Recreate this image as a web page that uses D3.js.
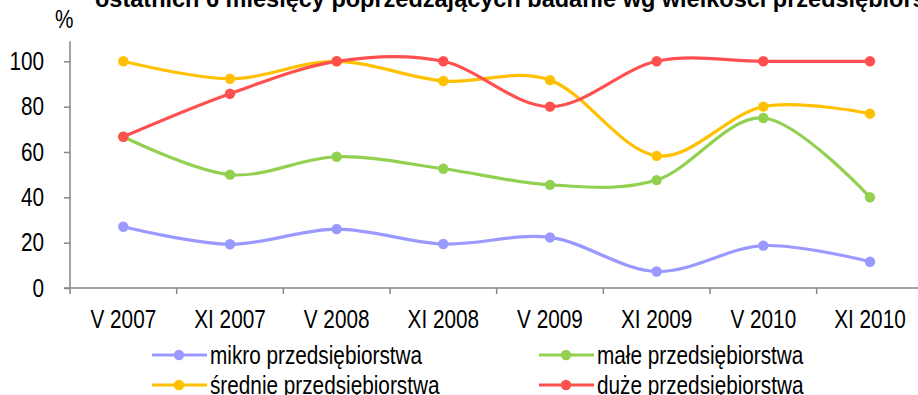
<!DOCTYPE html>
<html>
<head>
<meta charset="utf-8">
<script src="https://cdn.jsdelivr.net/npm/d3@7"></script>
<style>
  html, body { margin: 0; padding: 0; background: #fff; }
  svg { display: block; }
  text { font-family: "Liberation Sans", Arial, sans-serif; }
</style>
</head>
<body>
<svg id="chart" width="918" height="395"></svg>
<script>
// Survey periods on the category axis
const categories = ["V 2007", "XI 2007", "V 2008", "XI 2008", "V 2009", "XI 2009", "V 2010", "XI 2010"];

// Share of firms (%) by enterprise size
const mikro   = [27.0, 19.3, 26.0, 19.4, 22.3, 7.3, 18.7, 11.6];
const male    = [66.7, 50.0, 57.9, 52.6, 45.5, 47.6, 75.0, 40.0];
const srednie = [100, 92.3, 100, 91.3, 91.7, 58.3, 80.0, 76.9];
const duze    = [66.7, 85.7, 100, 100, 80.0, 100, 100, 100];

const seriesNames  = ["mikro przedsiębiorstwa", "małe przedsiębiorstwa", "średnie przedsiębiorstwa", "duże przedsiębiorstwa"];
const seriesColors = ["#9999FF", "#92D050", "#FFC000", "#FF5050"];
const yTicks = [0, 20, 40, 60, 80, 100];

const titleText = "ostatnich 6 miesięcy poprzedzających badanie wg wielkości przedsiębiorstw";

const series = [mikro, male, srednie, duze].map((values, i) => ({
  name: seriesNames[i], color: seriesColors[i], values
}));

const svg = d3.select("#chart");
const plotLeft = 70, plotRight = 923.3, plotTop = 61.3, plotBottom = 288;
const axisColor = "#878787";
const squeeze = 0.83;   // condensed look for axis labels

const x = d3.scaleBand().domain(categories).range([plotLeft, plotRight]).padding(0);
const y = d3.scaleLinear().domain([0, 100]).range([plotBottom, plotTop]);
const cx = c => x(c) + x.bandwidth() / 2;

// Title (runs past the top and right edges)
svg.append("text")
  .attr("x", 95).attr("y", 7)
  .attr("font-weight", "bold")
  .attr("font-size", 23.5)
  .attr("fill", "#000")
  .text(titleText);

// Unit label
svg.append("text")
  .attr("transform", `translate(55,28) scale(${squeeze},1)`)
  .attr("font-size", 25)
  .attr("fill", "#000")
  .text("%");

// Y axis line and ticks
const yAxis = svg.append("g")
  .attr("transform", `translate(${plotLeft},0)`)
  .call(d3.axisLeft(y).tickValues(yTicks).tickSize(6).tickFormat(""));
yAxis.select(".domain").attr("stroke", axisColor).attr("stroke-width", 1.5)
  .attr("d", `M-6,${plotBottom}H0V${plotTop - 20}`);
yAxis.selectAll(".tick line").attr("stroke", axisColor).attr("stroke-width", 1.5);

// Y tick labels
svg.append("g").selectAll("text")
  .data(yTicks)
  .join("text")
  .attr("transform", d => `translate(44,${y(d)}) scale(${squeeze},1)`)
  .attr("text-anchor", "end")
  .attr("dy", "0.35em")
  .attr("font-size", 25)
  .attr("fill", "#000")
  .text(d => d);

// X axis: ticks on category boundaries, labels centred in each band
const xAxisG = svg.append("g").attr("transform", `translate(0,${plotBottom})`);
xAxisG.append("line")
  .attr("x1", plotLeft).attr("x2", plotRight)
  .attr("stroke", axisColor).attr("stroke-width", 1.5);
xAxisG.selectAll("line.tk")
  .data(d3.range(categories.length + 1))
  .join("line")
  .attr("class", "tk")
  .attr("x1", i => plotLeft + i * x.bandwidth())
  .attr("x2", i => plotLeft + i * x.bandwidth())
  .attr("y1", 0).attr("y2", 6)
  .attr("stroke", axisColor).attr("stroke-width", 1.5);
xAxisG.selectAll("text")
  .data(categories)
  .join("text")
  .attr("transform", d => `translate(${cx(d)},40) scale(${squeeze},1)`)
  .attr("text-anchor", "middle")
  .attr("font-size", 25)
  .attr("fill", "#000")
  .text(d => d);

// Smoothed series lines with markers
const line = d3.line()
  .x((d, i) => cx(categories[i]))
  .y(d => y(d))
  .curve(d3.curveCatmullRom.alpha(0));

const sg = svg.append("g").selectAll("g").data(series).join("g");
sg.append("path")
  .attr("d", d => line(d.values))
  .attr("fill", "none")
  .attr("stroke", d => d.color)
  .attr("stroke-width", 3.2)
  .attr("stroke-linejoin", "round");
sg.selectAll("circle")
  .data(d => d.values.map((v, i) => ({ v, i, color: d.color })))
  .join("circle")
  .attr("cx", d => cx(categories[d.i]))
  .attr("cy", d => y(d.v))
  .attr("r", 5.2)
  .attr("fill", d => d.color);

// Legend: two columns, two rows
const legendPos = [[152, 355], [539, 355], [152, 385], [539, 385]];
const lg = svg.append("g").selectAll("g").data(series).join("g")
  .attr("transform", (d, i) => `translate(${legendPos[i][0]},${legendPos[i][1]})`);
lg.append("line")
  .attr("x1", 0).attr("x2", 55)
  .attr("stroke", d => d.color).attr("stroke-width", 3.2);
lg.append("circle")
  .attr("cx", 27).attr("r", 5.2)
  .attr("fill", d => d.color);
lg.append("text")
  .attr("transform", `translate(58,0) scale(${squeeze},1)`)
  .attr("dy", "0.36em")
  .attr("font-size", 25)
  .attr("fill", "#000")
  .text(d => d.name);
</script>
</body>
</html>
